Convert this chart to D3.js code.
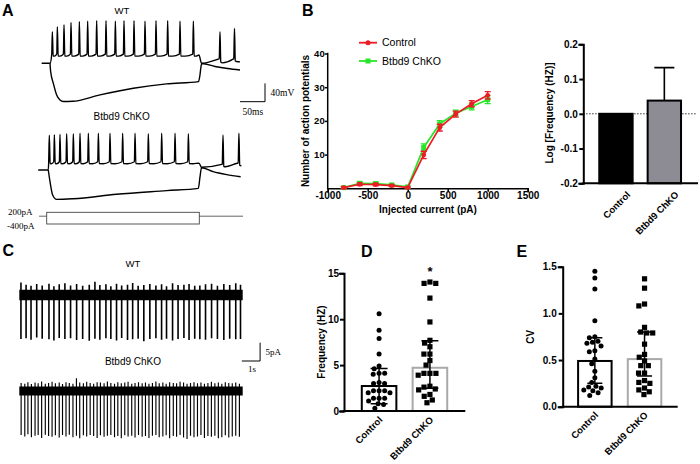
<!DOCTYPE html>
<html><head><meta charset="utf-8">
<script src="https://cdn.jsdelivr.net/npm/d3@7"></script>
<style>
html,body{margin:0;padding:0;background:#fff;}
svg{display:block;background:#fff;}
text{font-family:"Liberation Sans",Arial,Helvetica,sans-serif;fill:#000;}
.serif{font-family:"Liberation Serif","Times New Roman",serif;}
</style></head><body>
<svg id="c" width="700" height="464"></svg>
<script>
// ================= DATA =================
// Panel A: current-clamp traces (ms, mV)
const wtSpikeTimes = [4.7,14.7,28,42,58.7,75.3,93.3,112,130.7,148,168,190,212,235.3,260,286.7];
const wtSpikePeaks = [4,15,19,24,26,27,28,28,27,28,28,27,28,28,27,27];
const wtAfter = [[298,-47],[303,-65],[336,-56],[338.5,-55],[340,4],[341.5,-62],[345,-64],[366,-56],[367.5,-55],[369,11],[370.5,-60],[373,-61],[380,-62]];
const wtHyper = [[0,-65],[1.3,-83],[6.7,-108.7],[13.3,-134],[20,-145],[26.7,-148.5],[45,-148],[100,-134],[166.7,-119.6],[233,-110],[297,-105],[300,-90],[302,-72],[304,-65.5],[330,-72],[355,-76.5],[380,-79.6]];
const koSpikeTimes = [2.0,12,23.1,36.3,49.5,62.7,79.2,99,122,147,171.5,197.8,224.2,250.6,277];
const koSpikePeaks = [11,12,13,14,14,15,15,15,15,15,15,14,15,15,14];
const koAfter = [[298,-50],[303,-59],[343,-52.8],[344,-52],[345.5,11.4],[347,-57],[350,-58],[374,-50.3],[375.5,-50],[377,15],[378.5,-55],[382,-56]];
const koHyper = [[0,-65],[3.4,-90.5],[8.6,-119.6],[16.5,-129],[49.5,-127.6],[135,-118],[234,-110],[296.7,-105],[300,-80],[303,-60],[326,-68.6],[352.7,-75],[380.4,-79.6]];
const stimLevels = [200,-400];

// Panel B: input-output
const currents = [-800,-600,-400,-200,0,200,400,600,800,1000];
const apControl = [0.2,1.2,1.1,0.8,0.2,9.9,18.0,22.0,25.1,27.6];
const apControlErr = [0.3,0.4,0.4,0.3,0.2,1.1,1.0,0.9,0.9,1.1];
const apKO = [0.2,1.5,1.4,1.0,0.4,12.1,19.1,22.3,24.3,26.3];
const apKOErr = [0.3,0.4,0.4,0.3,0.3,1.1,1.0,0.9,1.0,1.2];
const xTicksB = [-1000,-500,0,500,1000,1500];
const yTicksB = [10,20,30,40];

const groups = ["Control","Btbd9 ChKO"];
const logFreq = [0, 0.038];
const logFreqErr = [0, 0.095];
const yTicksLog = [-0.2,-0.1,0,0.1,0.2];

// Panel C: cell-attached spike times (s) and amplitudes (pA)
const wtEventTimes = [0.09,0.37,0.64,0.95,1.25,1.62,1.89,2.18,2.49,2.80,3.13,3.46,3.82,4.13,4.40,4.73,5.00,5.31,5.59,5.91,6.19,6.49,6.80,7.13,7.46,7.77,8.04,8.37,8.67,8.99,9.27,9.58,9.86,10.17,10.50,10.82,11.17,11.49,11.82,12.08];
const wtEventDown = [-12.0,-11.8,-12.2,-11.6,-11.9,-12.1,-12.4,-11.7,-12.0,-11.8,-12.3,-12.0,-12.5,-11.9,-12.2,-11.8,-12.0,-12.4,-11.7,-12.3,-12.1,-11.9,-12.6,-12.0,-11.8,-12.2,-11.9,-12.4,-12.0,-11.7,-12.3,-11.9,-12.1,-12.2,-11.8,-12.0,-12.3,-11.9,-12.1,-12.0];
const wtEventUp = [3.4,2.8,2.5,3.0,2.6,3.1,2.4,2.9,3.2,2.6,3.0,2.5,2.8,3.6,2.7,2.9,2.4,3.1,2.6,2.8,3.3,2.5,2.7,3.0,2.6,2.9,2.4,3.2,2.7,2.8,3.0,2.5,2.6,2.9,3.1,2.5,3.0,2.7,3.2,2.8];
const koEventTimes = [0.10,0.30,0.47,0.66,0.86,1.03,1.22,1.42,1.60,1.79,1.97,2.18,2.36,2.55,2.73,2.93,3.12,3.30,3.50,3.68,3.87,4.06,4.25,4.43,4.63,4.81,5.00,5.20,5.38,5.57,5.76,5.94,6.14,6.32,6.51,6.71,6.89,7.08,7.27,7.46,7.64,7.84,8.02,8.21,8.41,8.59,8.78,8.97,9.16,9.35,9.54,9.73,9.92,10.11,10.30,10.49,10.68,10.87,11.06,11.25,11.44,11.63,11.82,12.02];
const koEventDown = [-12.0,-12.4,-11.8,-12.6,-12.2,-12.0,-12.8,-11.9,-12.3,-12.5,-12.1,-12.7,-12.0,-12.4,-11.9,-12.6,-12.2,-12.9,-12.1,-12.4,-12.0,-12.3,-12.8,-12.1,-12.5,-12.2,-12.0,-12.6,-12.3,-12.9,-12.1,-12.4,-12.2,-12.7,-12.0,-12.5,-12.3,-12.8,-12.2,-12.0,-12.6,-12.4,-12.1,-12.9,-12.3,-12.5,-12.0,-12.7,-13.1,-12.2,-12.6,-12.4,-12.0,-12.8,-12.3,-12.5,-12.2,-12.9,-12.6,-12.1,-12.7,-12.4,-12.2,-12.5];
const koEventUp = [2.2,2.0,2.4,1.9,2.3,2.1,2.6,2.0,2.2,2.5,2.1,2.3,1.9,2.4,2.2,2.0,3.5,2.3,2.1,2.5,2.2,2.0,2.4,2.3,2.1,2.6,2.2,2.0,2.4,2.1,2.3,2.5,2.0,2.2,2.4,2.1,2.3,2.0,2.2,2.6,2.1,2.3,2.0,2.4,2.2,2.1,2.5,2.3,2.0,2.2,2.4,2.1,2.3,2.0,2.2,2.5,2.1,2.3,2.0,2.4,2.2,2.1,2.3,2.0];

// Panel D: frequency
const freqMean = [2.72, 4.71];
const freqLo = [0.8, 2.47];
const freqHi = [4.64, 7.64];
const freqControl = [10.6,8.8,7.9,6.2,4.9,4.6,4.1,4.0,4.1,3.0,3.1,3.0,2.2,2.2,2.0,2.0,2.2,1.4,1.4,1.4,0.7,0.8,1.1,0.3];
const freqKO = [14.05,13.9,13.9,12.3,9.7,7.4,7.7,7.0,6.2,6.2,5.5,5.0,4.1,3.9,4.1,4.1,2.7,2.6,2.3,2.4,1.6,1.8,0.9,1.2];
const yTicksFreq = [0,5,10,15];

// Panel E: CV
const cvMean = [0.49, 0.51];
const cvLo = [0.25, 0.33];
const cvHi = [0.74, 0.80];
const cvControl = [1.45,1.38,1.26,0.92,0.75,0.74,0.70,0.69,0.68,0.65,0.60,0.59,0.51,0.46,0.38,0.31,0.26,0.22,0.21,0.20,0.18,0.17,0.15,0.12];
const cvKO = [1.37,1.27,1.10,1.08,0.85,0.80,0.79,0.79,0.67,0.56,0.53,0.49,0.44,0.44,0.36,0.36,0.28,0.26,0.25,0.20,0.18,0.16,0.13];
const yTicksCV = [0,0.5,1,1.5];

// ================= DRAW =================
const svg = d3.select("#c");
const FONT = "Liberation Sans, Arial, Helvetica, sans-serif";
const RED = "#ec1c24", GREEN = "#27e527";
const BS = 10; // bold text size

function panelLabel(t, x, y){
  svg.append("text").attr("x",x).attr("y",y).attr("font-size",16).attr("font-weight","bold").text(t);
}
function txt(t, x, y, opt={}){
  const e = svg.append("text").attr("x",x).attr("y",y).attr("font-size",opt.size||9.5)
    .attr("text-anchor",opt.anchor||"start").text(t);
  if(opt.bold) e.attr("font-weight","bold");
  if(opt.serif) e.attr("class","serif");
  return e;
}
function styleAxis(g, sw, size){
  g.attr("font-family", FONT);
  g.select(".domain").attr("stroke","#000").attr("stroke-width",sw).attr("stroke-linecap","square");
  g.selectAll(".tick line").attr("stroke","#000").attr("stroke-width",sw);
  g.selectAll(".tick text").attr("font-size",size||BS).attr("font-weight","bold").attr("fill","#000");
}
function vTitle(t, x, y){
  svg.append("text").attr("transform",`translate(${x},${y}) rotate(-90)`).attr("dy","0.35em")
    .attr("text-anchor","middle").attr("font-size",BS).attr("font-weight","bold").text(t);
}

// ---------- Panel A ----------
panelLabel("A", 2, 15.5);
const xWT = d3.scaleLinear().domain([0,300]).range([50,200]);
const yWT = d3.scaleLinear().domain([-65,28]).range([63.3,20.7]);
const xKO = d3.scaleLinear().domain([0,300]).range([48.3,200]);
const yKO = d3.scaleLinear().domain([-65,15]).range([170,133.3]);

function depolPoints(times, peaks, cfg){
  const pts = [[cfg.t0, cfg.rest],[0, cfg.rest]];
  times.forEach((ts,i)=>{
    const next = i < times.length-1 ? times[i+1] : 300;
    pts.push([ts-1.2, cfg.thr]);
    pts.push([ts, peaks[i]]);
    pts.push([ts+1.6, cfg.ahp]);
    const gap = next - ts;
    if (gap > 6) pts.push([ts + gap*0.4, cfg.ahp-0.3]);
  });
  return pts.concat(cfg.post);
}
function drawTrace(pts, xs, ys){
  svg.append("path").datum(pts)
    .attr("d", d3.line().x(d=>xs(d[0])).y(d=>ys(d[1])).curve(d3.curveMonotoneX))
    .attr("fill","none").attr("stroke","#000").attr("stroke-width",1.4).attr("stroke-linejoin","round");
}
drawTrace(depolPoints(wtSpikeTimes, wtSpikePeaks, {t0:-16.7, rest:-65, thr:-45, ahp:-49, post:wtAfter}), xWT, yWT);
drawTrace(wtHyper, xWT, yWT);
drawTrace(depolPoints(koSpikeTimes, koSpikePeaks, {t0:-20, rest:-65, thr:-47, ahp:-51, post:koAfter}), xKO, yKO);
drawTrace(koHyper, xKO, yKO);

txt("WT", 122, 13.5, {anchor:"middle"});
txt("Btbd9 ChKO", 121.7, 120, {anchor:"middle", size:10});
// scale bar A
svg.append("path").attr("d", `M${xWT(380)},${yWT(-148.8)}H${xWT(430)}V${yWT(-108.8)}`)
  .attr("fill","none").attr("stroke","#000").attr("stroke-width",1);
txt("40mV", xWT(430)+5.5, 96.2, {serif:true, size:9.5});
txt("50ms", xWT(380)+2.5, 115, {serif:true, size:9.5});
// stimulus protocol
const xStim = d3.scaleLinear().domain([0,300]).range([46.7,199.3]);
const iStim = d3.scaleLinear().domain([-400,200]).range([224,212.3]);
svg.append("path").attr("d",
  `M${xStim(-15)},${iStim(0)}H${xStim(0)}M${xStim(300)},${iStim(0)}H${xStim(386)}`)
  .attr("fill","none").attr("stroke","#555").attr("stroke-width",0.9);
svg.append("rect").attr("x",xStim(0)).attr("y",iStim(stimLevels[0]))
  .attr("width",xStim(300)-xStim(0)).attr("height",iStim(stimLevels[1])-iStim(stimLevels[0]))
  .attr("fill","none").attr("stroke","#444").attr("stroke-width",0.9);
txt("200pA", 8, 214.7, {serif:true, size:9});
txt("-400pA", 7, 229, {serif:true, size:9});

// ---------- Panel B (left) ----------
panelLabel("B", 302, 15.5);
const xB = d3.scaleLinear().domain([-1000,1500]).range([327.7,527.7]);
const yB = d3.scaleLinear().domain([0,40]).range([188.3,53.5]);
const gxB = svg.append("g").attr("transform",`translate(0,${yB(0)})`)
  .call(d3.axisBottom(xB).tickValues(xTicksB).tickFormat(d=>String(d)).tickSizeOuter(0).tickSize(3.5).tickPadding(0.5));
styleAxis(gxB, 1.5);
const gyB = svg.append("g").attr("transform",`translate(${xB(-1000)},0)`)
  .call(d3.axisLeft(yB).tickValues(yTicksB).tickSizeOuter(0).tickSize(3).tickPadding(0));
styleAxis(gyB, 1.5, 9.5);
gyB.select(".domain").attr("d", `M0,${yB(0)}V${yB(40)}`);
txt("Injected current (pA)", 428, 213, {anchor:"middle", bold:true, size:BS});
vTitle("Number of action potentials", 305.5, 121);

function series(vals, errs, color, marker){
  const g = svg.append("g");
  const pts = currents.map((c,i)=>({x:xB(c), y:yB(vals[i]), lo:yB(vals[i]-errs[i]), hi:yB(vals[i]+errs[i])}));
  g.selectAll(".eb").data(pts).join("path")
    .attr("d", d=>`M${d.x},${d.lo}V${d.hi}M${d.x-3},${d.lo}h6M${d.x-3},${d.hi}h6`)
    .attr("stroke",color).attr("stroke-width",1.3).attr("fill","none");
  g.append("path").datum(pts).attr("d", d3.line().x(d=>d.x).y(d=>d.y))
    .attr("fill","none").attr("stroke",color).attr("stroke-width",1.7);
  if (marker==="circle") g.selectAll(".m").data(pts).join("circle").attr("cx",d=>d.x).attr("cy",d=>d.y).attr("r",2.4).attr("fill",color);
  else g.selectAll(".m").data(pts).join("rect").attr("x",d=>d.x-2.5).attr("y",d=>d.y-2.5).attr("width",5).attr("height",5).attr("fill",color);
}
series(apKO, apKOErr, GREEN, "square");
series(apControl, apControlErr, RED, "circle");
// legend
[[groups[0], RED, "circle", 42.7],[groups[1], GREEN, "square", 61]].forEach(([name,color,m,y])=>{
  svg.append("line").attr("x1",359).attr("x2",377).attr("y1",y).attr("y2",y).attr("stroke",color).attr("stroke-width",1.8);
  if(m==="circle") svg.append("circle").attr("cx",368).attr("cy",y).attr("r",2.5).attr("fill",color);
  else svg.append("rect").attr("x",365.5).attr("y",y-2.5).attr("width",5).attr("height",5).attr("fill",color);
  txt(name, 382, y+3.7, {size:10.5});
});

// ---------- Panel B (right) ----------
const xR = d3.scaleBand().domain(groups).range([583.3,697]).paddingInner(0.31).paddingOuter(0.33);
const yR = d3.scaleLinear().domain([-0.2,0.2]).range([183.3,44.3]);
svg.append("line").attr("x1",583.3).attr("x2",697).attr("y1",yR(0)).attr("y2",yR(0))
  .attr("stroke","#000").attr("stroke-width",1).attr("stroke-dasharray","1.2,1.8");
svg.selectAll(".barR").data(groups).join("rect")
  .attr("x",d=>xR(d)).attr("width",xR.bandwidth())
  .attr("y",(d,i)=>yR(logFreq[i])).attr("height",(d,i)=>yR(-0.2)-yR(logFreq[i]))
  .attr("fill",(d,i)=>i===0?"#000":"#8d8b93").attr("stroke","#000").attr("stroke-width",2);
svg.append("path").attr("d", (()=>{
  const cx = xR(groups[1])+xR.bandwidth()/2, y0 = yR(logFreq[1]), y1 = yR(logFreq[1]+logFreqErr[1]);
  return `M${cx},${y0}V${y1}M${cx-10},${y1}h20`; })())
  .attr("stroke","#000").attr("stroke-width",1.6).attr("fill","none");
const gyR = svg.append("g").attr("transform",`translate(583.3,0)`)
  .call(d3.axisLeft(yR).tickValues(yTicksLog).tickFormat(d=>d.toFixed(1)).tickSizeOuter(0).tickSize(4).tickPadding(1.5));
styleAxis(gyR, 2);
const gxR = svg.append("g").attr("transform",`translate(0,${yR(-0.2)})`)
  .call(d3.axisBottom(xR).tickSize(0).tickSizeOuter(0));
styleAxis(gxR, 2, 9.5);
gxR.select(".domain").attr("d","M583.3,0H697");
gxR.selectAll(".tick text").attr("dy",null).attr("x",15).attr("y",12).attr("text-anchor","end")
  .attr("transform","rotate(-45,15,12)");
vTitle("Log [Frequency (HZ)]", 549, 113);

// ---------- Panel C ----------
panelLabel("C", 2.5, 256);
const tC = d3.scaleLinear().domain([0,12.2]).range([19.3,242.7]);
const iWT = d3.scaleLinear().domain([0,-12]).range([295,339]);
const iKOc = d3.scaleLinear().domain([0,-12]).range([391,435]);
function cellAttached(times, downs, ups, iS, band, sw){
  svg.append("path").datum([0,12.2])
    .attr("d", d3.area().x(d=>tC(d)).y0(iS(-band)).y1(iS(band)))
    .attr("fill","#000");
  svg.append("path").attr("d", times.map((t,i)=>`M${tC(t)},${iS(ups[i])}V${iS(downs[i])}`).join(""))
    .attr("stroke","#000").attr("stroke-width",sw).attr("fill","none");
}
cellAttached(wtEventTimes, wtEventDown, wtEventUp, iWT, 1.4, 1.6);
cellAttached(koEventTimes, koEventDown, koEventUp, iKOc, 1.2, 1.15);
txt("WT", 133, 266.5, {anchor:"middle"});
txt("Btbd9 ChKO", 133, 365, {anchor:"middle", size:10});
svg.append("path").attr("d", `M${tC(12.15)},${iWT(-18)}H${tC(13.15)}V${iWT(-13)}`)
  .attr("fill","none").attr("stroke","#000").attr("stroke-width",1);
txt("5pA", tC(13.15)+5.5, 355, {serif:true, size:9});
txt("1s", (tC(12.15)+tC(13.15))/2+1, 371.5, {serif:true, size:9, anchor:"middle"});

// ---------- scatter helpers ----------
function swarm(values, y, cx, minDist){
  const items = values.map(v=>({v, y:y(v), dx:0}));
  const order = items.slice().sort((a,b)=>a.y-b.y);
  const placed = [];
  for (const p of order){
    const iv = [];
    for (const q of placed){
      const dy = p.y-q.y;
      if (Math.abs(dy) < minDist){ const w = Math.sqrt(minDist*minDist-dy*dy); iv.push([q.dx-w,q.dx+w]); }
    }
    const cands = [0]; iv.forEach(([a,b])=>cands.push(a,b));
    cands.sort((a,b)=>Math.abs(a)-Math.abs(b));
    for (const c of cands){ if (iv.every(([a,b])=> c<=a+1e-6 || c>=b-1e-6)){ p.dx=c; break; } }
    placed.push(p);
  }
  return items.map(p=>({x:cx+p.dx, y:p.y}));
}
function scatterPanel(cfg){
  const {xS, yS, y0, means, los, his, sets, ticks, fmt, axisX, axisEnd, capW, labDx, labDy} = cfg;
  svg.selectAll(null).data(groups).join("rect")
    .attr("x",d=>xS(d)).attr("width",xS.bandwidth())
    .attr("y",(d,i)=>yS(means[i])).attr("height",(d,i)=>yS(y0)-yS(means[i]))
    .attr("fill","#fff").attr("stroke",(d,i)=>i===0?"#000":"#a9a9a9").attr("stroke-width",2);
  sets.forEach((vals,i)=>{
    const cx = xS(groups[i])+xS.bandwidth()/2;
    const pts = swarm(vals, yS, cx, i===0?5.6:6.0);
    if (i===0) svg.selectAll(null).data(pts).join("circle").attr("cx",d=>d.x).attr("cy",d=>d.y).attr("r",2.5).attr("fill","#000");
    else svg.selectAll(null).data(pts).join("rect").attr("x",d=>d.x-2.6).attr("y",d=>d.y-2.6).attr("width",5.2).attr("height",5.2).attr("fill","#000");
    const yl = yS(los[i]), yh = yS(his[i]);
    svg.append("path").attr("d",`M${cx},${yl}V${yh}M${cx-capW/2},${yl}h${capW}M${cx-capW/2},${yh}h${capW}`)
      .attr("stroke","#000").attr("stroke-width",1.5).attr("fill","none");
  });
  const gy = svg.append("g").attr("transform",`translate(${axisX},0)`)
    .call(d3.axisLeft(yS).tickValues(ticks).tickFormat(fmt).tickSizeOuter(0).tickSize(4).tickPadding(cfg.pad));
  styleAxis(gy, 2);
  const gx = svg.append("g").attr("transform",`translate(0,${yS(y0)})`)
    .call(d3.axisBottom(xS).tickSize(0).tickSizeOuter(0));
  styleAxis(gx, 2, 9.5);
  gx.select(".domain").attr("d",`M${axisX},0H${axisEnd}`);
  gx.selectAll(".tick text").attr("dy",null).attr("x",labDx).attr("y",labDy).attr("text-anchor","end")
    .attr("transform",`rotate(-45,${labDx},${labDy})`);
}

// ---------- Panel D ----------
panelLabel("D", 361, 257);
const xD = d3.scaleBand().domain(groups).range([344,465]).paddingInner(0.32).paddingOuter(0.35);
const yD = d3.scaleLinear().domain([0,15]).range([411,273.3]);
scatterPanel({xS:xD, yS:yD, y0:0, means:freqMean, los:freqLo, his:freqHi, sets:[freqControl,freqKO],
  ticks:yTicksFreq, fmt:d=>String(d), axisX:344, axisEnd:464.3, capW:17, labDx:4, labDy:9.5, pad:1});
svg.append("text").attr("x", xD(groups[1])+xD.bandwidth()/2).attr("y", 276)
  .attr("text-anchor","middle").attr("font-size",13).attr("font-weight","bold").text("*");
vTitle("Frequency (HZ)", 321, 342);

// ---------- Panel E ----------
panelLabel("E", 516.5, 257);
const xE = d3.scaleBand().domain(groups).range([562.7,676.7]).paddingInner(0.326).paddingOuter(0.31);
const yE = d3.scaleLinear().domain([0,1.5]).range([406.7,266.7]);
scatterPanel({xS:xE, yS:yE, y0:0, means:cvMean, los:cvLo, his:cvHi, sets:[cvControl,cvKO],
  ticks:yTicksCV, fmt:d=>d.toFixed(1), axisX:562.7, axisEnd:676.7, capW:15, labDx:4, labDy:9, pad:2});
vTitle("CV", 530, 336.7);
</script>
</body></html>
